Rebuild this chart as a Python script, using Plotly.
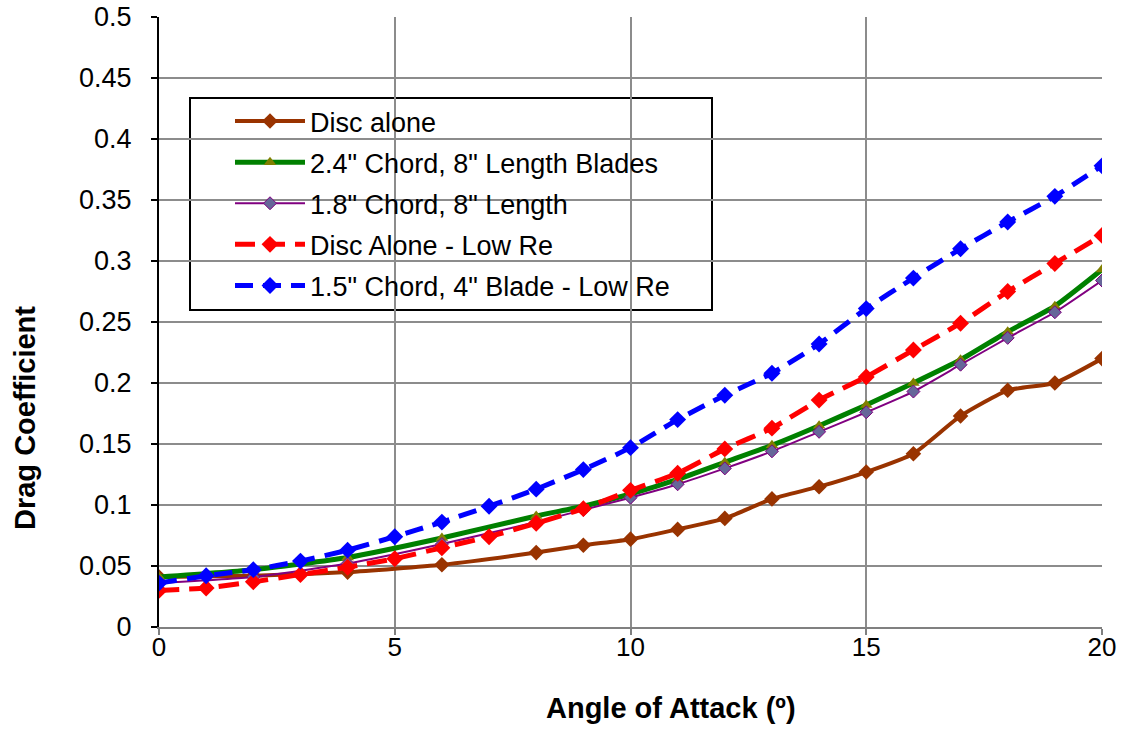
import plotly.graph_objects as go

# Angle of attack (degrees)
aoa_main = [0, 2, 4, 6, 8, 9, 10, 11, 12, 13, 14, 15, 16, 17, 18, 19, 20]
aoa_low_re = [0, 1, 2, 3, 4, 5, 6, 7, 8, 9, 10, 11, 12, 13, 14, 15, 16, 17, 18, 19, 20]

# Drag coefficient per configuration
cd_disc_alone = [0.041, 0.042, 0.045, 0.051, 0.061, 0.067, 0.072, 0.080, 0.089, 0.105,
                 0.115, 0.127, 0.142, 0.173, 0.194, 0.200, 0.220]
cd_chord_24 = [0.041, 0.047, 0.057, 0.073, 0.091, 0.099, 0.109, 0.121, 0.135, 0.149,
               0.165, 0.182, 0.200, 0.219, 0.242, 0.263, 0.293]
cd_chord_18 = [0.036, 0.041, 0.052, 0.068, 0.086, 0.096, 0.106, 0.117, 0.130, 0.144,
               0.160, 0.176, 0.193, 0.215, 0.237, 0.258, 0.284]
cd_disc_low_re = [0.030, 0.032, 0.037, 0.043, 0.049, 0.056, 0.065, 0.074, 0.085, 0.097,
                  0.112, 0.126, 0.146, 0.163, 0.186, 0.205, 0.227, 0.249, 0.275, 0.298, 0.321]
cd_chord_15_low_re = [0.036, 0.042, 0.047, 0.054, 0.063, 0.074, 0.086, 0.099, 0.113, 0.129,
                      0.147, 0.170, 0.190, 0.208, 0.232, 0.261, 0.286, 0.310, 0.332, 0.353, 0.378]

series_names = [
    'Disc alone',
    '2.4" Chord, 8" Length Blades',
    '1.8" Chord, 8" Length',
    'Disc Alone - Low Re',
    '1.5" Chord, 4" Blade - Low Re',
]

y_ticks = [0, 0.05, 0.1, 0.15, 0.2, 0.25, 0.3, 0.35, 0.4, 0.45, 0.5]
y_tick_text = ['0', '0.05', '0.1', '0.15', '0.2', '0.25', '0.3', '0.35', '0.4', '0.45', '0.5']
x_ticks = [0, 5, 10, 15, 20]

FONT = 'Liberation Sans, Arial, sans-serif'

fig = go.Figure()

fig.add_trace(go.Scatter(
    x=aoa_main, y=cd_disc_alone, name=series_names[0], legendgroup='a',
    mode='lines+markers', line=dict(color='#993300', width=4, shape='spline', smoothing=0.5),
    marker=dict(symbol='diamond', size=12, color='#993300'),
))
fig.add_trace(go.Scatter(
    x=aoa_main, y=cd_chord_24, name=series_names[1], legendgroup='b',
    mode='lines+markers', line=dict(color='#008000', width=5, shape='spline', smoothing=0.5),
    marker=dict(symbol='triangle-up', size=11, color='#808000'),
))
fig.add_trace(go.Scatter(
    x=aoa_main, y=cd_chord_18, name=series_names[2], legendgroup='c',
    mode='lines+markers', line=dict(color='#800080', width=2, shape='spline', smoothing=0.5),
    marker=dict(symbol='diamond', size=10, color='#666699', line=dict(color='#800080', width=1)),
))
fig.add_trace(go.Scatter(
    x=aoa_low_re, y=cd_disc_low_re, name=series_names[3], legendgroup='d',
    mode='lines+markers',
    line=dict(color='#FF0000', width=5, dash='20px,10px', shape='spline', smoothing=0.5),
    marker=dict(symbol='diamond', size=13, color='#FF0000'),
))
fig.add_trace(go.Scatter(
    x=aoa_low_re, y=cd_chord_15_low_re, name=series_names[4], legendgroup='e',
    mode='lines+markers',
    line=dict(color='#0000FF', width=5, dash='18px,10px', shape='spline', smoothing=0.5),
    marker=dict(symbol='diamond', size=13, color='#0000FF'),
))

# legend frame
fig.add_shape(type='rect', xref='paper', yref='paper',
              x0=(190 - 159) / 943, x1=(712 - 159) / 943,
              y0=(627 - 310) / 610, y1=(627 - 98) / 610,
              line=dict(color='black', width=2), fillcolor='white', layer='below')

fig.add_annotation(text='<b>Drag Coefficient</b>', xref='paper', yref='paper',
                   x=(25 - 159) / 943, y=(627 - 418) / 610, textangle=-90, showarrow=False,
                   xanchor='center', yanchor='middle',
                   font=dict(family=FONT, size=29, color='black'))
fig.add_annotation(text='<b>Angle of Attack (º)</b>', xref='paper', yref='paper',
                   x=(671 - 159) / 943, y=(627 - 708) / 610, showarrow=False,
                   xanchor='center', yanchor='middle',
                   font=dict(family=FONT, size=29, color='black'))

fig.update_layout(
    width=1127, height=731,
    margin=dict(l=159, r=25, t=17, b=104),
    paper_bgcolor='white', plot_bgcolor='white',
    font=dict(family=FONT, color='black'),
    legend=dict(
        x=(230 - 159) / 943, y=(627 - 97) / 610, xanchor='left', yanchor='top',
        bgcolor='rgba(0,0,0,0)', borderwidth=0,
        font=dict(family=FONT, size=27, color='black'),
        itemwidth=70, tracegroupgap=3,
    ),
    xaxis=dict(
        range=[0, 20], tickvals=x_ticks, showgrid=True, gridcolor='#8c8c8c', gridwidth=1.5,
        zeroline=False, showline=True, linecolor='#808080', linewidth=2, automargin=False,
        ticks='outside', ticklen=6, tickcolor='#808080', tickwidth=1.5,
        tickfont=dict(family=FONT, size=26, color='black'), ticklabelstandoff=-10,
    ),
    yaxis=dict(
        range=[0, 0.5], tickvals=y_ticks, ticktext=y_tick_text, showgrid=True,
        gridcolor='#8c8c8c', gridwidth=1.5, automargin=False,
        zeroline=False, showline=True, linecolor='black', linewidth=2,
        ticks='outside', ticklen=6, tickcolor='black', tickwidth=1.5,
        tickfont=dict(family=FONT, size=27, color='black'), ticklabelstandoff=14,
    ),
)

fig.write_html('out.html')
